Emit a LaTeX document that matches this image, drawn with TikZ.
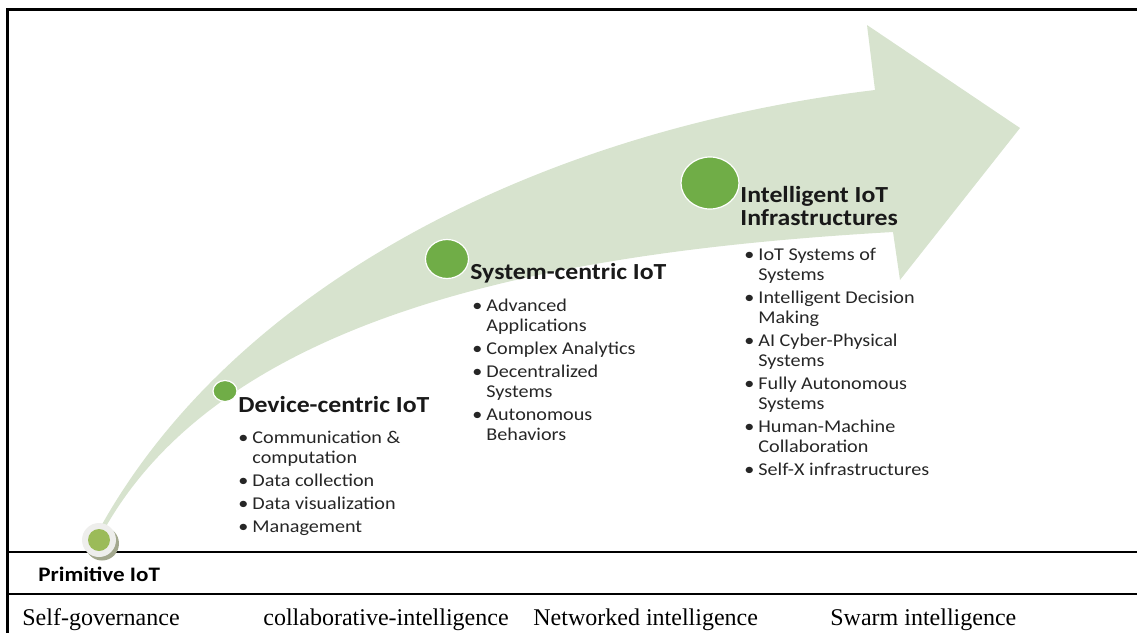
\documentclass[tikz,border=0pt]{standalone}
\usepackage{fontspec}
\setmainfont{Liberation Serif}
\newfontfamily\figfont[FakeStretch=1.12]{Carlito}
\usetikzlibrary{shapes.geometric}
\definecolor{bandgreen}{RGB}{215,227,206}
\definecolor{stagegreen}{RGB}{112,173,71}
\definecolor{oldgreen}{RGB}{155,187,89}
\definecolor{ringgray}{RGB}{238,238,236}
\definecolor{shadowgray}{RGB}{163,168,142}
\newcommand{\pointlist}[1]{\begin{tabular}[t]{@{}l@{\hspace{2pt}}l@{}}#1\end{tabular}}
\begin{document}
\begin{tikzpicture}[x=0.5pt,y=-0.5pt,
  stage/.style={ellipse,fill=stagegreen,draw=white,line width=0.6pt,inner sep=0pt},
  stagename/.style={anchor=base west,inner sep=0pt,text=black!90,
    font=\figfont\fontsize{11.5}{11.5}\selectfont\bfseries},
  points/.style={anchor=base west,inner sep=0pt,text=black!85,
    font=\figfont\fontsize{9}{10}\selectfont},
  level/.style={anchor=base west,inner sep=0pt,font=\fontsize{12}{14}\selectfont}]
\useasboundingbox (0,0) rectangle (1137,633);
% growth arrow
\fill[bandgreen] (100,528) .. controls (235,285) and (540,130) .. (875,90)
  -- (867,25) -- (1020,128) -- (900,280) -- (893,232)
  .. controls (580,250) and (230,305) .. (104,530) -- cycle;
% table rules
\draw[line width=1.35pt] (1137,9.5) -- (7.5,9.5) -- (7.5,633);
\draw[line width=1.35pt] (7.5,552) -- (1137,552);
\draw[line width=1.35pt] (7.5,594) -- (1137,594);
% stages
\node[circle,fill=shadowgray,minimum size=17pt,inner sep=0pt] (primshadow) at (102,543.5) {};
\node[circle,fill=ringgray,minimum size=17pt,inner sep=0pt] (primring) at (99,540) {};
\node[circle,fill=oldgreen,minimum size=11pt,inner sep=0pt] (primdot) at (99,540) {};
\node[stage,minimum width=12pt,minimum height=10.5pt] (devdot) at (225,391) {};
\node[stage,minimum width=21.5pt,minimum height=19.5pt] (sysdot) at (447,259) {};
\node[stage,minimum width=29pt,minimum height=26pt] (inteldot) at (710,183) {};
\node[stagename,font=\figfont\fontsize{10.3}{12}\selectfont\bfseries,text=black] (primname) at (38,581) {Primitive IoT};
\node[stagename] (devname) at (238,412) {Device-centric IoT};
\node[stagename] (sysname) at (470,279) {System-centric IoT};
\node[stagename] (intelname) at (740,202) {\begin{tabular}[t]{@{}l@{}}Intelligent IoT\\Infrastructures\end{tabular}};
\node[points] (devlist) at (238,443) {\pointlist{%
  \textbullet & Communication \&\\ & computation\\[1.5pt]
  \textbullet & Data collection\\[1.5pt]
  \textbullet & Data visualization\\[1.5pt]
  \textbullet & Management}};
\node[points] (syslist) at (472,311) {\pointlist{%
  \textbullet & Advanced\\ & Applications\\[1.5pt]
  \textbullet & Complex Analytics\\[1.5pt]
  \textbullet & Decentralized\\ & Systems\\[1.5pt]
  \textbullet & Autonomous\\ & Behaviors}};
\node[points] (intellist) at (744,260) {\pointlist{%
  \textbullet & IoT Systems of\\ & Systems\\[1.5pt]
  \textbullet & Intelligent Decision\\ & Making\\[1.5pt]
  \textbullet & AI Cyber-Physical\\ & Systems\\[1.5pt]
  \textbullet & Fully Autonomous\\ & Systems\\[1.5pt]
  \textbullet & Human-Machine\\ & Collaboration\\[1.5pt]
  \textbullet & Self-X infrastructures}};
% intelligence levels
\node[level] (selfgov) at (22,625) {Self-governance};
\node[level] (collab) at (263,625) {collaborative-intelligence};
\node[level] (networked) at (533,625) {Networked intelligence};
\node[level] (swarm) at (830,625) {Swarm intelligence};
\end{tikzpicture}
\end{document}
